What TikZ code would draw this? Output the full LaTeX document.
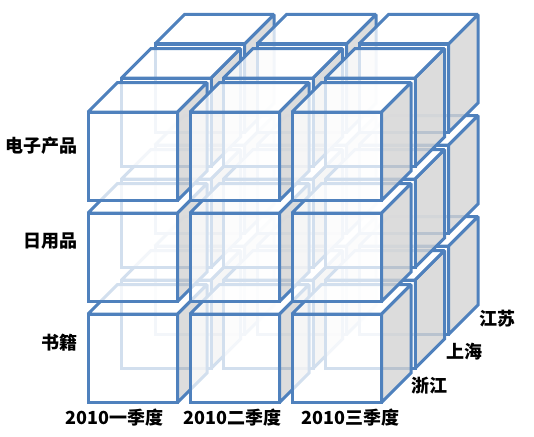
\documentclass[tikz,border=0pt]{standalone}
\usepackage{fontspec}
\setmainfont{Carlito}
\newfontfamily\cjk{Noto Sans CJK SC}
\tikzset{
  face/.style={draw=cubeblue,line width=3pt,line join=miter,miter limit=1.5},
  frontface/.style={face,fill=white,fill opacity=0.75},
  topface/.style={face,fill=white,fill opacity=0.75},
  sideface/.style={face,fill=sidegray,fill opacity=0.8},
  lab/.style={font=\cjk\bfseries\fontsize{18}{20}\selectfont,text=black,inner sep=0pt},
  axislab/.style={lab,anchor=east},
  qlab/.style={lab},
}
\definecolor{cubeblue}{HTML}{4F81BD}
\definecolor{sidegray}{HTML}{D4D4D4}
\newcommand{\cubeat}[2]{%
  \def\X{#1}\def\Y{#2}%
  \draw[sideface] (\X+89.5,\Y) -- ++(29.5,-29.5) -- ++(0,88.5) -- ++(-29.5,29.5) -- cycle;
  \draw[topface] (\X,\Y) -- ++(29.5,-29.5) -- ++(89.5,0) -- ++(-29.5,29.5) -- cycle;
  \draw[frontface] (\X,\Y) rectangle ++(89.5,88.5);
}
\begin{document}
\begin{tikzpicture}[x=1pt,y=-1pt]
\useasboundingbox (0,0) rectangle (534,436);
\foreach \lay in {2,1,0}{
  \foreach \row in {2,1,0}{
    \foreach \col in {0,1,2}{
      \pgfmathsetmacro{\cx}{88+102*\col+33.5*\lay}
      \pgfmathsetmacro{\cy}{112+101*\row-34*\lay}
      \cubeat{\cx}{\cy}
    }
  }
}
\node[axislab] (r0) at (78,146) {电子产品};
\node[axislab] (r1) at (78,241) {日用品};
\node[axislab] (r2) at (78,343) {书籍};
\node[qlab] (c0) at (114.5,418) {\textbf{2010}一季度};
\node[qlab] (c1) at (232.5,418) {\textbf{2010}二季度};
\node[qlab] (c2) at (350.5,418) {\textbf{2010}三季度};
\node[qlab] (d0) at (429,386) {浙江};
\node[qlab] (d1) at (464,352) {上海};
\node[qlab] (d2) at (497,319) {江苏};
\end{tikzpicture}
\end{document}
